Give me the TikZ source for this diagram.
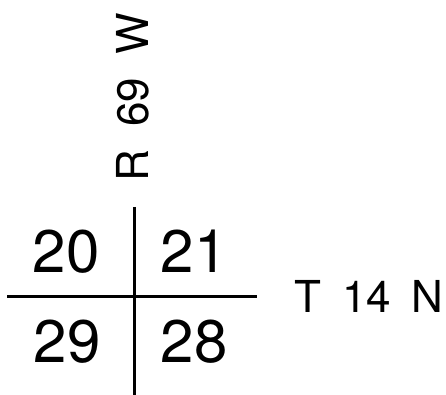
\documentclass[tikz,border=0pt]{standalone}
\usepackage{fontspec}
\setmainfont{TeX Gyre Heros}
\begin{document}
\begin{tikzpicture}[x=1pt,y=1pt,
  rule/.style={line width=3pt},
  secnum/.style={font=\fontsize{60}{60}\selectfont, inner sep=0pt, anchor=base west},
  lbl/.style={font=\fontsize{44}{44}\selectfont, inner sep=0pt, anchor=base west}]
\useasboundingbox (0,0) rectangle (446,395);
\coordinate (vtop) at (134,188);
\coordinate (vbot) at (134,0);
\coordinate (hl) at (7,98);
\coordinate (hr) at (257,98);
\draw[rule] (vtop) -- (vbot);
\draw[rule] (hl) -- (hr);
\node[secnum] (s20) at (32.6,122) {20};
\node[secnum] (s21) at (160.6,122) {21};
\node[secnum] (s29) at (33.6,32) {29};
\node[secnum] (s28) at (160.6,32) {28};
\node[lbl] (twp) at (294,82) {T\hspace{21pt}14\hspace{21pt}N};
\node[lbl, rotate=90] (rng) at (148,213.5) {R\hspace{23pt}69\hspace{23pt}W};
\end{tikzpicture}
\end{document}
